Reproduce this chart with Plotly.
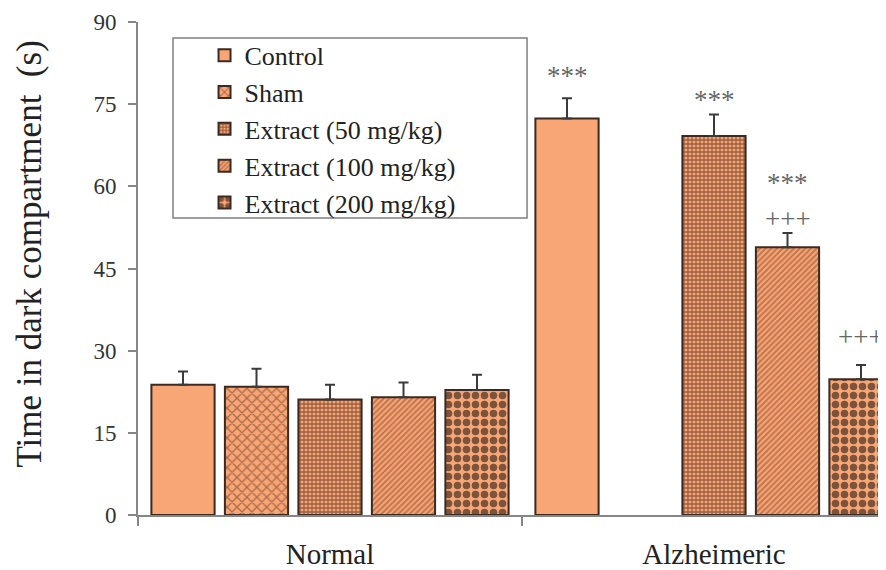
import plotly.graph_objects as go

categories = ["Normal", "Alzheimeric"]
series_names = ["Control", "Sham", "Extract (50 mg/kg)", "Extract (100 mg/kg)", "Extract (200 mg/kg)"]
control = [23.8, 72.4]
control_err = [2.4, 3.7]
sham = [23.4, None]
sham_err = [3.3, None]
ext50 = [21.1, 69.2]
ext50_err = [2.7, 3.9]
ext100 = [21.5, 48.9]
ext100_err = [2.7, 2.6]
ext200 = [22.8, 24.8]
ext200_err = [2.8, 2.6]
y_ticks = [0, 15, 30, 45, 60, 75, 90]

# significance marks: (text, category, series, y-value)
marks = [
    ("***", "Alzheimeric", "Control", 80.2),
    ("***", "Alzheimeric", "Extract (50 mg/kg)", 75.8),
    ("***", "Alzheimeric", "Extract (100 mg/kg)", 60.6),
    ("+++", "Alzheimeric", "Extract (100 mg/kg)", 54.0),
    ("+++", "Alzheimeric", "Extract (200 mg/kg)", 32.5),
]

values = [control, sham, ext50, ext100, ext200]
errors = [control_err, sham_err, ext50_err, ext100_err, ext200_err]

SALMON = "#F9A676"
patterns = [
    dict(shape=""),
    dict(shape="x", fgcolor="#5E321C", size=7, solidity=0.35),
    dict(shape="+", fgcolor="#3A1A0C", size=4, solidity=0.55),
    dict(shape="/", fgcolor="#874628", size=4, solidity=0.5),
    dict(shape=".", fgcolor="#000000", size=9, solidity=0.55),
]

FONT = "Liberation Serif"
bargap = 0.043

fig = go.Figure()
for name, vals, errs, pat in zip(series_names, values, errors, patterns):
    fig.add_trace(go.Bar(
        name=name, x=categories, y=vals,
        marker=dict(color=SALMON, line=dict(color="#3B2A22", width=2), pattern=pat),
        error_y=dict(type="data", array=errs, arrayminus=[0] * len(errs), symmetric=False,
                     color="#3A3A3A", thickness=2, width=5),
    ))

n = len(series_names)
slot = (1 - bargap) / n
for text, cat, ser, yv in marks:
    xi = categories.index(cat) + (series_names.index(ser) - (n - 1) / 2) * slot
    fig.add_annotation(x=xi, y=yv, xref="x", yref="y", text=text, showarrow=False,
                       font=dict(family=FONT, size=27, color="#666666"))

# y-axis title
fig.add_annotation(text="Time in dark compartment  (s)", textangle=-90,
                   xref="paper", yref="paper", x=-0.143, y=0.53, xanchor="center", yanchor="middle",
                   showarrow=False, font=dict(family=FONT, size=35, color="#222222"))

# legend frame
fig.add_shape(type="rect", xref="paper", yref="paper", x0=0.0463, x1=0.5146, y0=0.6024, y1=0.9675,
              line=dict(color="#7F7F7F", width=1.5), fillcolor="rgba(0,0,0,0)", layer="below")

fig.update_layout(
    width=886, height=570,
    margin=dict(l=130, r=0, t=14, b=63, autoexpand=False),
    paper_bgcolor="white", plot_bgcolor="white",
    barmode="group", bargap=bargap, bargroupgap=0.14,
    font=dict(family=FONT, color="#222222"),
    showlegend=True,
    legend=dict(xref="paper", yref="paper", x=0.088, y=0.98, xanchor="left", yanchor="top",
                bgcolor="rgba(0,0,0,0)", borderwidth=0, font=dict(family=FONT, size=26, color="#222222"),
                traceorder="normal"),
    xaxis=dict(type="category", range=[-0.5, 1.46875], showline=True, linecolor="#868686", linewidth=2,
               ticks="outside", tickson="boundaries", ticklen=9, tickcolor="#868686", tickwidth=2,
               tickfont=dict(family=FONT, size=29, color="#222222"), ticklabelstandoff=12,
               showgrid=False, zeroline=False),
    yaxis=dict(range=[0, 90], tickvals=y_ticks, showline=True, linecolor="#868686", linewidth=2,
               ticks="outside", ticklen=8, tickcolor="#868686", tickwidth=2,
               tickfont=dict(family=FONT, size=23, color="#333333"), ticklabelstandoff=7,
               showgrid=False, zeroline=False),
)

fig.write_html("out.html")
